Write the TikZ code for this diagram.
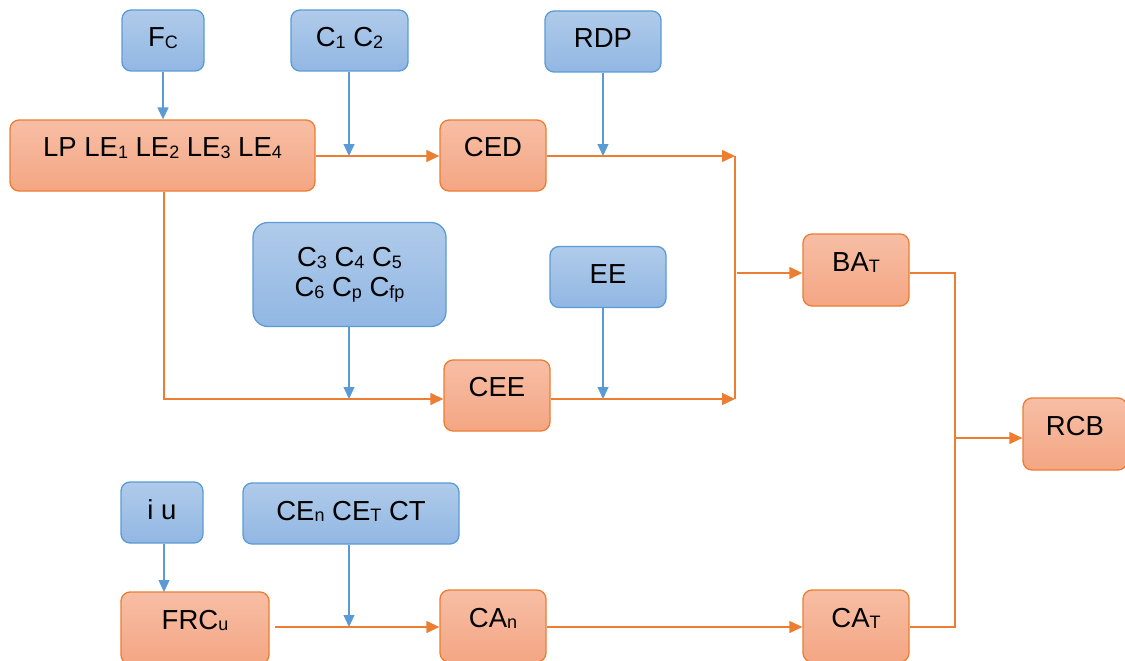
\documentclass[tikz,border=0pt]{standalone}
\usepackage{fontspec}
\setmainfont{Liberation Sans}
\usetikzlibrary{arrows.meta}
\definecolor{bfillT}{RGB}{176,203,234}
\definecolor{bfillB}{RGB}{145,183,227}
\definecolor{bline}{RGB}{91,155,213}
\definecolor{ofillT}{RGB}{247,190,165}
\definecolor{ofillB}{RGB}{244,166,131}
\definecolor{oline}{RGB}{237,125,49}
\newcommand{\mysub}[1]{\raisebox{-1.8pt}{\fontsize{18}{18}\selectfont #1}}
\tikzset{
  box/.style={rectangle, rounded corners=9pt, inner sep=0pt, line width=1.3pt,
    font=\fontsize{27.5}{31}\selectfont},
  bluefill/.style={box, draw=bline, top color=bfillT, bottom color=bfillB},
  bluebox/.style={bluefill, text height=17pt, text depth=4pt},
  orangebox/.style={box, draw=oline, top color=ofillT, bottom color=ofillB,
    text height=14pt, text depth=12pt},
  bluearrow/.style={draw=bline, line width=1.3pt, -{Triangle[length=12pt,width=11pt]}},
  orangearrow/.style={draw=oline, line width=1.3pt, -{Triangle[length=13pt,width=12pt]}},
  orangeline/.style={draw=oline, line width=1.3pt},
}
\begin{document}
\begin{tikzpicture}[x=1pt,y=-1pt]
\useasboundingbox (0,0) rectangle (1125,661);
% blue input boxes
\node[bluebox, minimum width=82pt, minimum height=61pt] (fc) at (163,40.5) {F\mysub{C}};
\node[bluebox, minimum width=117pt, minimum height=61pt] (c12) at (349.5,40.5) {C\mysub{1} C\mysub{2}};
\node[bluebox, minimum width=116pt, minimum height=61pt] (rdp) at (603,41.5) {RDP};
\node[bluefill, rounded corners=15pt, minimum width=193pt, minimum height=104pt, align=center] (c3) at (349.5,274.5)
  {C\mysub{3} C\mysub{4} C\mysub{5}\\[-1pt]C\mysub{6} C\mysub{p} C\mysub{fp}};
\node[bluebox, minimum width=116pt, minimum height=61pt] (ee) at (608,277) {EE};
\node[bluebox, minimum width=82pt, minimum height=61pt] (iu) at (162,512.5) {i u};
\node[bluebox, minimum width=216pt, minimum height=61pt] (cen) at (351,513.5) {CE\mysub{n} CE\mysub{T} CT};
% orange boxes
\node[orangebox, minimum width=305pt, minimum height=71pt] (lp) at (162.5,155.5)
  {LP LE\mysub{1} LE\mysub{2} LE\mysub{3} LE\mysub{4}};
\node[orangebox, minimum width=106pt, minimum height=71pt] (ced) at (493,155.5) {CED};
\node[orangebox, minimum width=106pt, minimum height=71pt] (cee) at (497,395.5) {CEE};
\node[orangebox, minimum width=106pt, minimum height=72pt] (bat) at (856,270) {BA\mysub{T}};
\node[orangebox, minimum width=104pt, minimum height=72pt] (rcb) at (1075,434) {RCB};
\node[orangebox, minimum width=148pt, minimum height=72pt] (frc) at (195,628) {FRC\mysub{u}};
\node[orangebox, minimum width=106pt, minimum height=72pt] (can) at (493,626) {CA\mysub{n}};
\node[orangebox, minimum width=106pt, minimum height=72pt] (cat) at (856,626) {CA\mysub{T}};
% junction coordinates
\coordinate (j1) at (349,156);
\coordinate (j2) at (603,156);
\coordinate (e1) at (735,156);
\coordinate (k0) at (164,399);
\coordinate (k1) at (349,399);
\coordinate (k2) at (603,399);
\coordinate (e2) at (735,399);
\coordinate (b0) at (737,273);
\coordinate (r1) at (955,273);
\coordinate (r2) at (955,627);
\coordinate (r0) at (955,438);
\coordinate (f0) at (275,627);
\coordinate (m1) at (349,627);
\coordinate (i0) at (164,592);
% blue connectors
\draw[bluearrow] (fc.south) -- (fc.south |- lp.north);
\draw[bluearrow] (c12.south -| j1) -- (j1);
\draw[bluearrow] (rdp.south -| j2) -- (j2);
\draw[bluearrow] (c3.south -| k1) -- (k1);
\draw[bluearrow] (ee.south -| k2) -- (k2);
\draw[bluearrow] (iu.south -| i0) -- (i0);
\draw[bluearrow] (cen.south -| m1) -- (m1);
% orange connectors
\draw[orangearrow] (lp.east |- j1) -- (ced.west |- j1);
\draw[orangearrow] (ced.east |- e1) -- (e1);
\draw[orangeline] (e1) -- (e2);
\draw[orangearrow] (lp.south -| k0) -- (k0) -- (cee.west |- k0);
\draw[orangearrow] (cee.east |- e2) -- (e2);
\draw[orangearrow] (b0) -- (bat.west |- b0);
\draw[orangeline] (bat.east |- r1) -- (r1) -- (r2) -- (cat.east |- r2);
\draw[orangearrow] (r0) -- (rcb.west |- r0);
\draw[orangearrow] (f0) -- (can.west |- f0);
\draw[orangearrow] (can.east |- m1) -- (cat.west |- m1);
\end{tikzpicture}
\end{document}
